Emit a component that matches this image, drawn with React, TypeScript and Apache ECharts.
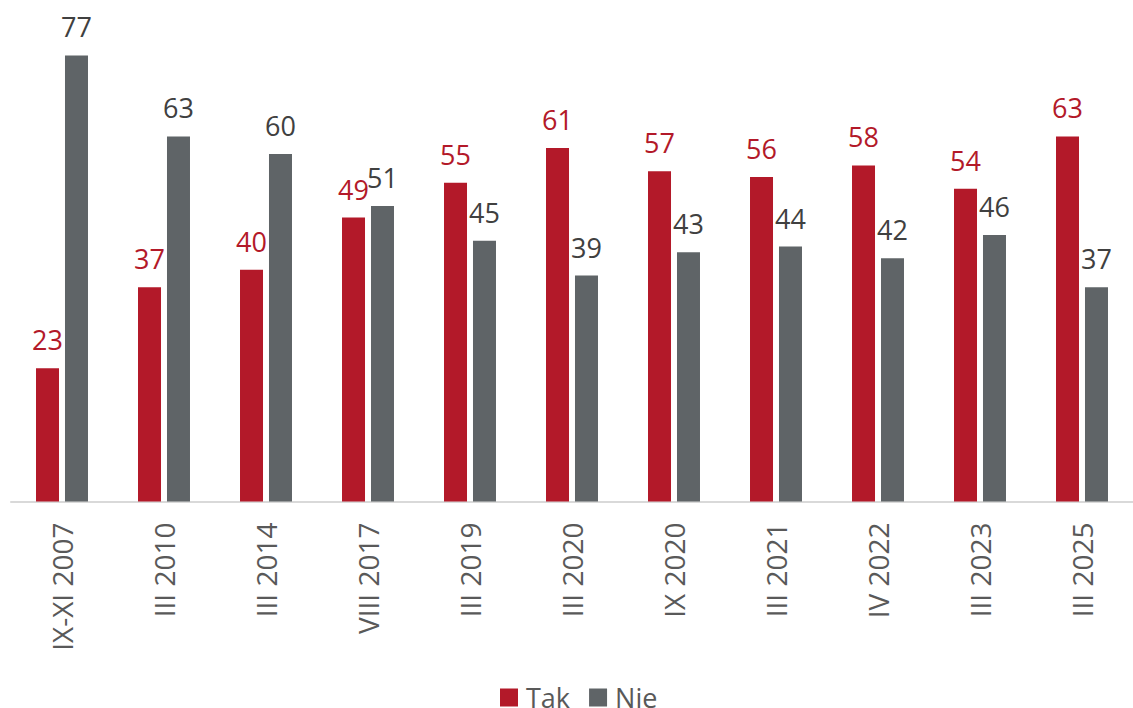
import React, { useEffect, useRef } from "react";
import * as echarts from "echarts";

const categories = ["IX-XI 2007", "III 2010", "III 2014", "VIII 2017", "III 2019", "III 2020", "IX 2020", "III 2021", "IV 2022", "III 2023", "III 2025"];
const takValues = [23, 37, 40, 49, 55, 61, 57, 56, 58, 54, 63];
const nieValues = [77, 63, 60, 51, 45, 39, 43, 44, 42, 46, 37];

const RED = "#B31929";
const GRAY = "#5F6467";
const FONT = "'Open Sans', sans-serif";

export default function App() {
  const ref = useRef<HTMLDivElement>(null);
  useEffect(() => {
    if (!ref.current) return;
    const chart = echarts.init(ref.current, null, { renderer: "svg" });
    chart.setOption({
      animation: false,
      textStyle: { fontFamily: FONT },
      grid: { left: 11, width: 1129, top: 38, bottom: 206.5, containLabel: false },
      legend: {
        left: 500,
        top: 684,
        padding: 0,
        itemWidth: 18,
        itemHeight: 18,
        itemGap: 19,
        icon: "rect",
        textStyle: { fontSize: 27, lineHeight: 24, color: "#595959", fontFamily: FONT, padding: [0, 0, 0, 3] },
        data: ["Tak", "Nie"],
      },
      xAxis: {
        type: "category",
        data: categories,
        axisLine: { lineStyle: { color: "#D9D9D9", width: 2 } },
        axisTick: { show: false },
        axisLabel: { rotate: 90, fontSize: 28, color: "#595959", margin: 21, fontFamily: FONT },
      },
      yAxis: {
        type: "value",
        min: 0,
        max: 80,
        show: false,
        splitLine: { show: false },
      },
      series: [
        {
          name: "Tak",
          type: "bar",
          data: takValues,
          barWidth: 23,
          barGap: "26%",
          itemStyle: { color: RED },
          label: { show: true, position: "top", distance: 15, fontSize: 27, color: RED, fontFamily: FONT },
        },
        {
          name: "Nie",
          type: "bar",
          data: nieValues,
          barWidth: 23,
          barGap: "26%",
          itemStyle: { color: GRAY },
          label: { show: true, position: "top", distance: 15, fontSize: 27, color: "#404040", fontFamily: FONT },
        },
      ],
    });
    return () => chart.dispose();
  }, []);
  return (
    <div
      ref={ref}
      style={{ position: "absolute", left: 0, top: 0, width: 1133, height: 708, background: "#fff" }}
    />
  );
}
